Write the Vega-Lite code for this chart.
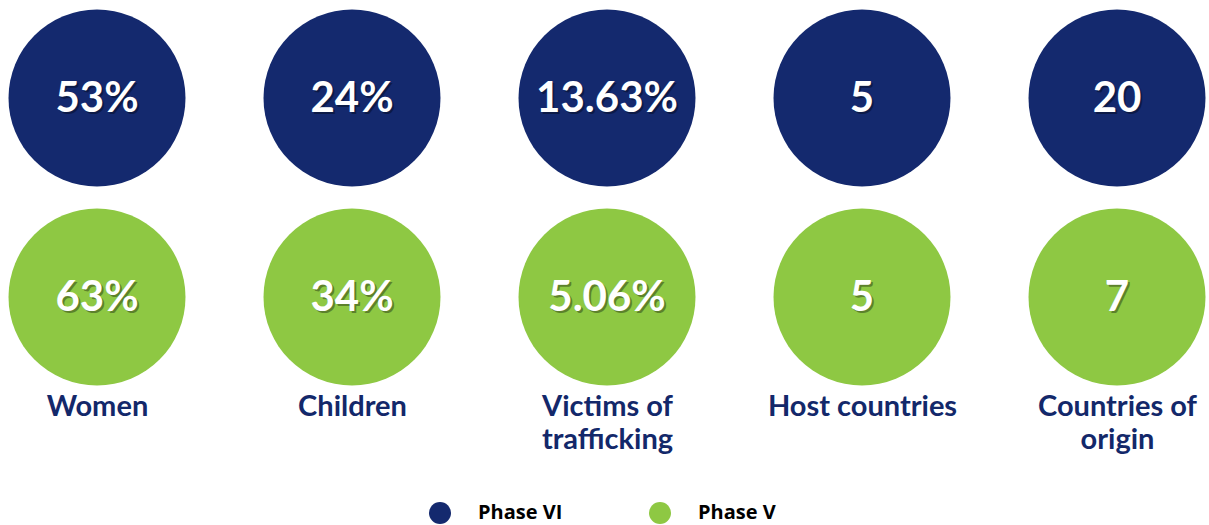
{
  "$schema": "https://vega.github.io/schema/vega-lite/v6.json",
  "width": 1209,
  "height": 392,
  "autosize": {"type": "pad"},
  "padding": 0,
  "background": "white",
  "config": {"view": {"stroke": null}},
  "data": {"values": [
    {"category": "Women", "phase": "Phase VI", "value": "53%"},
    {"category": "Children", "phase": "Phase VI", "value": "24%"},
    {"category": "Victims of trafficking", "phase": "Phase VI", "value": "13.63%"},
    {"category": "Host countries", "phase": "Phase VI", "value": "5"},
    {"category": "Countries of origin", "phase": "Phase VI", "value": "20"},
    {"category": "Women", "phase": "Phase V", "value": "63%"},
    {"category": "Children", "phase": "Phase V", "value": "34%"},
    {"category": "Victims of trafficking", "phase": "Phase V", "value": "5.06%"},
    {"category": "Host countries", "phase": "Phase V", "value": "5"},
    {"category": "Countries of origin", "phase": "Phase V", "value": "7"}
  ]},
  "encoding": {
    "x": {
      "field": "category", "type": "nominal", "sort": null,
      "scale": {"type": "point", "range": [97, 1117], "padding": 0},
      "axis": {
        "orient": "bottom", "domain": false, "ticks": false, "grid": false, "title": null,
        "labelFont": "Lato", "labelFontWeight": "bold", "labelFontSize": 29,
        "labelColor": "#13286a", "labelPadding": 0, "labelAngle": 0,
        "labelOverlap": false, "labelBound": false, "labelFlush": false, "labelLimit": 400,
        "labelLineHeight": 33, "labelBaseline": "top",
        "labelExpr": "datum.value == 'Victims of trafficking' ? ['Victims of','trafficking'] : datum.value == 'Countries of origin' ? ['Countries of','origin'] : datum.value"
      }
    },
    "y": {
      "field": "phase", "type": "nominal", "sort": ["Phase VI", "Phase V"],
      "scale": {"type": "point", "range": [98, 297], "padding": 0},
      "axis": null
    }
  },
  "layer": [
    {
      "mark": {"type": "point", "filled": true, "shape": "circle", "size": 31329, "opacity": 1},
      "encoding": {
        "color": {
          "field": "phase", "type": "nominal",
          "scale": {"domain": ["Phase VI", "Phase V"], "range": ["#14296e", "#8ec843"]},
          "legend": {
            "orient": "none", "legendX": 429, "legendY": 502, "direction": "horizontal",
            "title": null, "symbolType": "circle", "symbolSize": 484, "symbolStrokeWidth": 0,
            "labelFont": "Open Sans", "labelFontWeight": "bold", "labelFontSize": 20,
            "labelColor": "#000000", "labelOffset": 27, "columnPadding": 86
          }
        }
      }
    },
    {
      "mark": {"type": "text", "font": "Lato", "fontWeight": "bold", "fontSize": 42, "color": "#000000", "opacity": 0.35, "dx": 2, "dy": 3, "baseline": "middle"},
      "encoding": {"text": {"field": "value"}}
    },
    {
      "mark": {"type": "text", "font": "Lato", "fontWeight": "bold", "fontSize": 42, "color": "#ffffff", "dy": 1, "baseline": "middle"},
      "encoding": {"text": {"field": "value"}}
    }
  ]
}
